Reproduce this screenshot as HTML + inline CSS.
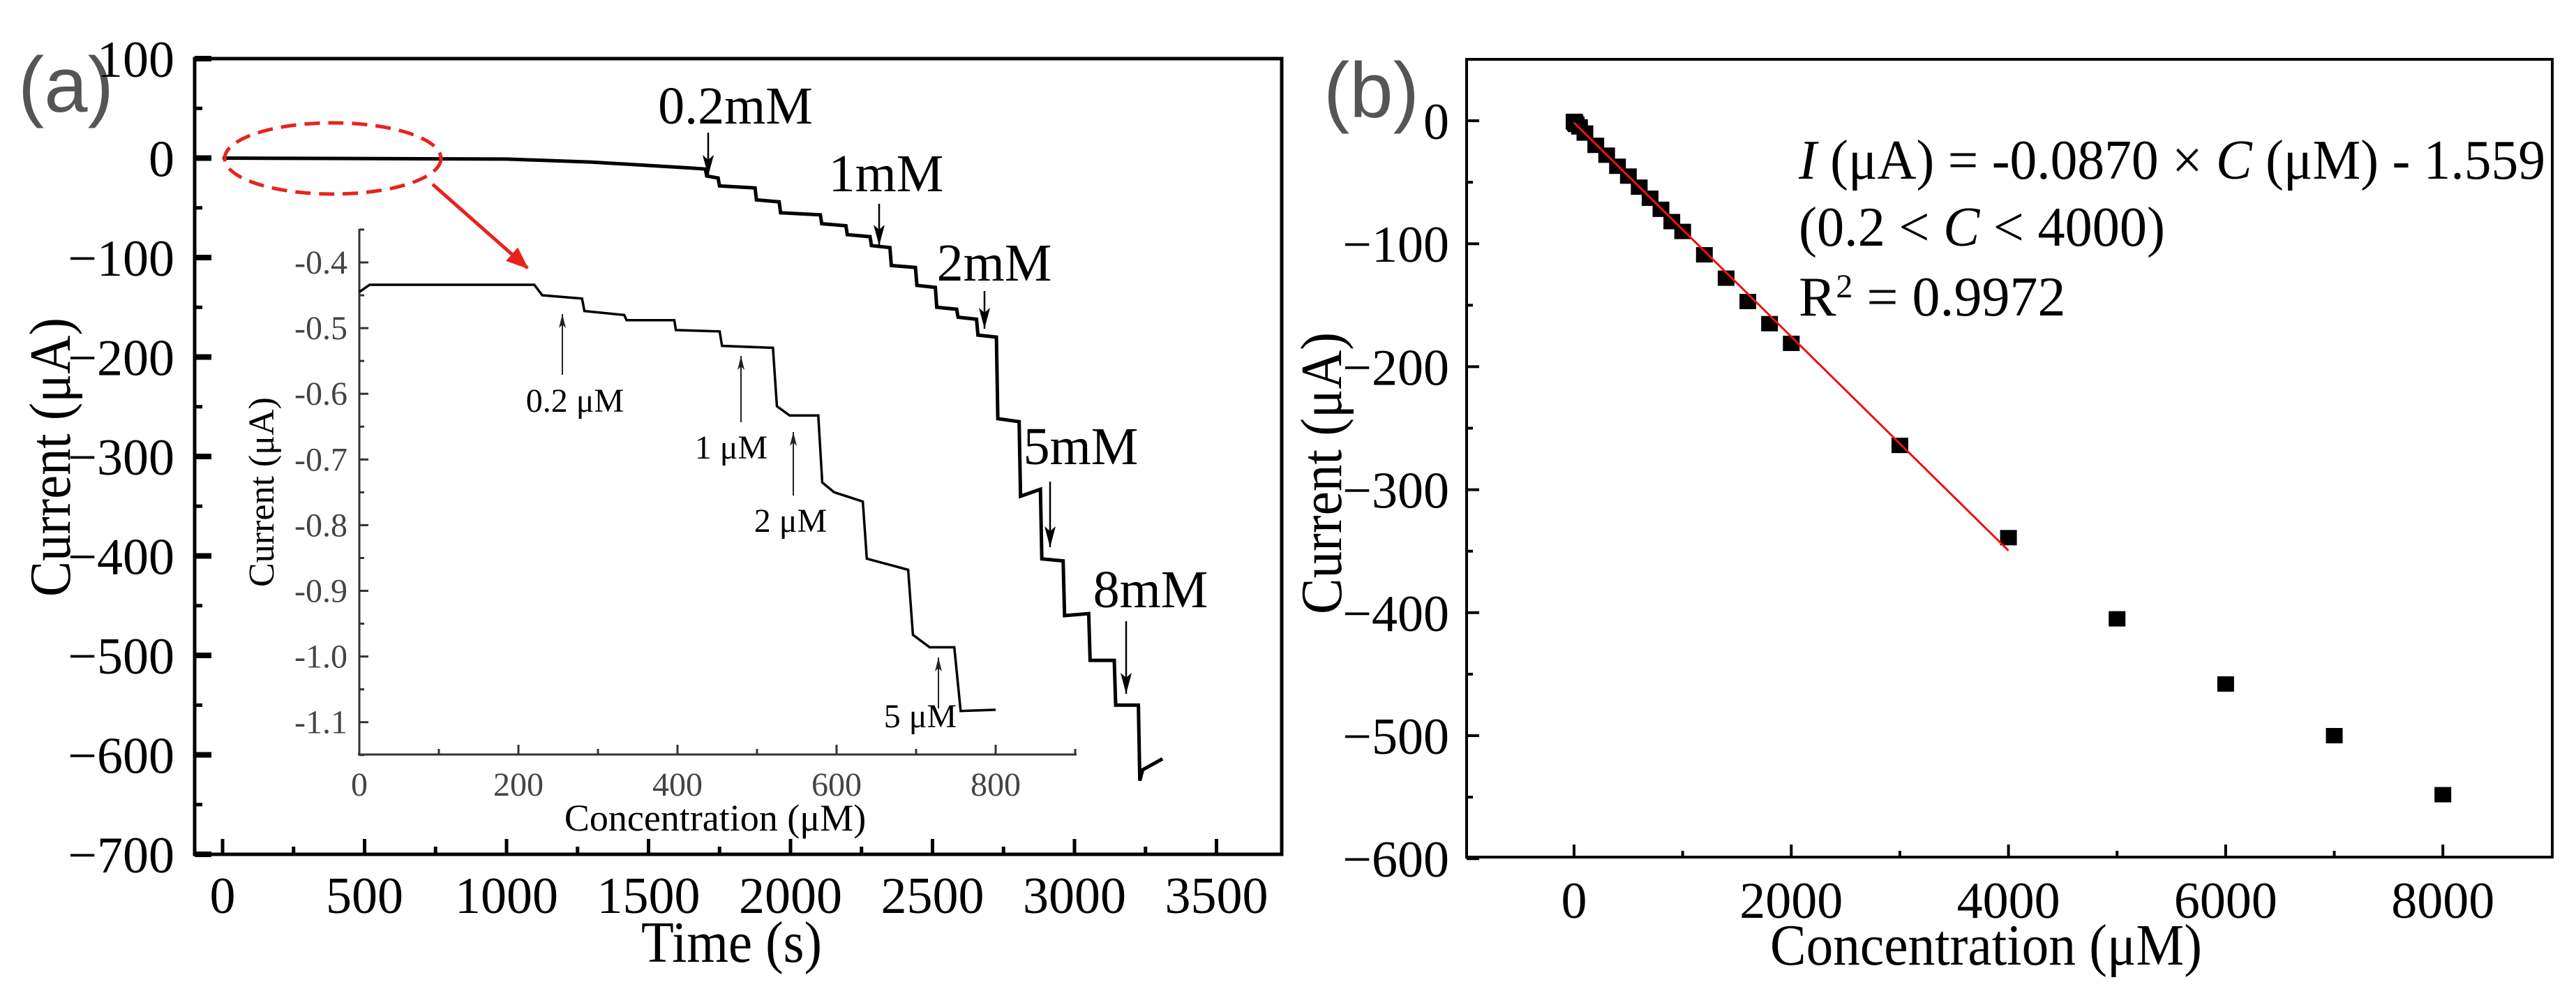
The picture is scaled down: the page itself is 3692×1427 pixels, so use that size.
<!DOCTYPE html>
<html><head><meta charset="utf-8"><style>
html,body{margin:0;padding:0;background:#fff;}
svg{display:block;}
svg text{font-family:"Liberation Serif",serif;}
svg text.sans{font-family:"Liberation Sans",sans-serif;}
</style></head><body>
<svg id="fig" width="3692" height="1427" viewBox="0 0 3692 1427" xmlns="http://www.w3.org/2000/svg"></svg>
<script>
// ---- Panel (a) main trace ----
const timeT = [0,1000,1300,1650,1700,1705,1745,1750,1875,1880,1960,1965,2105,2110,2195,2200,2280,2285,2350,2355,2440,2445,2510,2515,2585,2590,2655,2660,2725,2730,2805,2810,2880,2885,2960,2965,3050,3055,3140,3145,3225,3230,3240,3310];
const currentI = [0,-1,-4,-10,-11,-18,-20,-28,-30,-42,-44,-55,-57,-66,-68,-77,-79,-88,-90,-108,-110,-128,-130,-150,-152,-160,-162,-178,-180,-262,-265,-340,-333,-403,-405,-460,-458,-505,-505,-550,-550,-626,-615,-604];
const aXTicks = [0,500,1000,1500,2000,2500,3000,3500];
const aYTicks = [100,0,-100,-200,-300,-400,-500,-600,-700];
const annotLabels = ["0.2mM","1mM","2mM","5mM","8mM"];
// ---- Inset ----
const insetX = [0,13,220,230,280,283,333,336,396,398,453,456,520,525,541,577,582,597,633,638,690,696,717,748,756,800];
const insetY = [-0.445,-0.434,-0.434,-0.45,-0.455,-0.474,-0.48,-0.488,-0.488,-0.503,-0.505,-0.527,-0.53,-0.619,-0.633,-0.633,-0.735,-0.75,-0.764,-0.851,-0.868,-0.967,-0.986,-0.986,-1.083,-1.081];
const inXTicks = [0,200,400,600,800];
const inYTicks = [-0.4,-0.5,-0.6,-0.7,-0.8,-0.9,-1.0,-1.1];
const inLabels = ["0.2 μM","1 μM","2 μM","5 μM"];
// ---- Panel (b) ----
const concC = [0.2,1,2,5,10,20,50,100,200,300,400,500,600,700,800,900,1000,1200,1400,1600,1800,2000,3000,4000,5000,6000,7000,8000];
const currB = [-0.5,-0.6,-0.7,-1,-2,-3,-5,-10,-20,-28,-37,-45,-54,-63,-72,-82,-90,-109,-128,-147,-165,-181,-264,-339,-405,-458,-500,-548];
const bXTicks = [0,2000,4000,6000,8000];
const bYTicks = [0,-100,-200,-300,-400,-500,-600];
const fitSlope = -0.0870, fitIntercept = -1.559, fitRange = [0,4000];

const NS="http://www.w3.org/2000/svg";
const svg=document.getElementById('fig');
function mk(tag,attrs,parent,text){const e=document.createElementNS(NS,tag);for(const k in attrs)e.setAttribute(k,attrs[k]);if(text!==undefined)e.textContent=text;(parent||svg).appendChild(e);return e;}

const ax=v=>319+v*0.407, ay=v=>226.5-v*1.425;
const ix=v=>515+v*1.14, iy=v=>376-(v+0.4)*941;
const bx=v=>2256+v*0.15565, by=v=>173-v*1.762;

const defs=mk('defs',{});
const mA=mk('marker',{id:'ah',markerWidth:30,markerHeight:16,refX:30,refY:8,orient:'auto',markerUnits:'userSpaceOnUse',viewBox:'0 0 30 16'},defs);
mk('path',{d:'M0 0 L30 8 L0 16 L7 8 Z',fill:'#000'},mA);
const mB=mk('marker',{id:'ahs',markerWidth:20,markerHeight:10,refX:20,refY:5,orient:'auto',markerUnits:'userSpaceOnUse',viewBox:'0 0 20 10'},defs);
mk('path',{d:'M0 0 L20 5 L0 10 L5 5 Z',fill:'#222'},mB);
const mR=mk('marker',{id:'ahr',markerWidth:34,markerHeight:34,refX:30,refY:17,orient:'auto',markerUnits:'userSpaceOnUse'},defs);
mk('path',{d:'M0 4 L32 17 L0 30 Z',fill:'#e8231d'},mR);

// ===== Panel a =====
const ga=mk('g',{});


let t=mk('text',{x:26,y:160,'font-size':112,fill:'#555',class:'sans'},ga,'(a)');

let r=mk('rect',{x:279,y:84,width:1558,height:1140,fill:'none',stroke:'#000','stroke-width':5},ga);

for(let v=100;v>=-700;v-=50){const y=ay(v);const major=(v%100===0);
 mk('line',{x1:279,x2:279+(major?24:11),y1:y,y2:y,stroke:'#000','stroke-width':major?8:5},ga);}
aYTicks.forEach(v=>{const e=mk('text',{x:250,y:ay(v)+26,'font-size':74,'text-anchor':'end'},ga,(v<0?'−':'')+Math.abs(v));
 });
for(let v=0;v<=3750;v+=250){const x=ax(v);if(x>1835)break;const major=(v%500===0);
 mk('line',{x1:x,x2:x,y1:1224,y2:1224-(major?22:11),stroke:'#000','stroke-width':5},ga);}
aXTicks.forEach(v=>{const e=mk('text',{x:ax(v),y:1308,'font-size':74,'text-anchor':'middle'},ga,String(v));
 });
t=mk('text',{x:919,y:1378,'font-size':84,textLength:259,lengthAdjust:'spacingAndGlyphs'},ga,'Time (s)');

t=mk('text',{x:-855,y:100,'font-size':84,textLength:400,lengthAdjust:'spacingAndGlyphs',transform:'rotate(-90)'},ga,'Current (μA)');

let p=mk('polyline',{points:timeT.map((v,i)=>ax(v)+','+ay(currentI[i])).join(' '),fill:'none',stroke:'#000','stroke-width':5},ga);

const annotLabelPos=[[1054,177],[1270,274],[1425,402],[1549,665],[1649,870]];
const annotArrow=[[1015,190,252],[1260,292,352],[1411,417,471],[1505,690,784],[1614,890,994]];
annotLabels.forEach((s,i)=>{
 const e=mk('text',{x:annotLabelPos[i][0],y:annotLabelPos[i][1],'font-size':76,'text-anchor':'middle'},ga,s);
 
 const a=mk('line',{x1:annotArrow[i][0],x2:annotArrow[i][0],y1:annotArrow[i][1],y2:annotArrow[i][2],stroke:'#000','stroke-width':2.5,'marker-end':'url(#ah)'},ga);
 
});
let el=mk('ellipse',{cx:477,cy:227,rx:155,ry:51,fill:'none',stroke:'#e8231d','stroke-width':5,'stroke-dasharray':'22 12'},ga);

el=mk('line',{x1:620,y1:264,x2:756,y2:384,stroke:'#e8231d','stroke-width':5,'marker-end':'url(#ahr)'},ga);


// ===== Inset =====
const gi=mk('g',{});


mk('line',{x1:515,y1:328,x2:515,y2:1081,stroke:'#333','stroke-width':3},gi);
mk('line',{x1:513,y1:1081,x2:1543,y2:1081,stroke:'#333','stroke-width':3},gi);
for(let k=0;k<=16;k++){const v=-0.35-k*0.05;const y=iy(v);const major=k%2===1;
 mk('line',{x1:515,x2:515+(major?13:7),y1:y,y2:y,stroke:'#333','stroke-width':3},gi);}
inYTicks.forEach(v=>{const e=mk('text',{x:498,y:iy(v)+16,'font-size':48,'text-anchor':'end',fill:'#444'},gi,(v<0?'-':'')+Math.abs(v).toFixed(1));
 });
for(let v=0;v<=900;v+=100){const x=ix(v);const major=v%200===0;
 mk('line',{x1:x,x2:x,y1:1081,y2:1081-(major?14:8),stroke:'#333','stroke-width':3},gi);}
inXTicks.forEach(v=>{const e=mk('text',{x:ix(v),y:1140,'font-size':48,'text-anchor':'middle',fill:'#444'},gi,String(v));
 });
t=mk('text',{x:1025,y:1190,'font-size':54,'text-anchor':'middle'},gi,'Concentration (μM)');

t=mk('text',{x:0,y:0,'font-size':52,'text-anchor':'middle',transform:'translate(392,705) rotate(-90)'},gi,'Current (μA)');

p=mk('polyline',{points:insetX.map((v,i)=>ix(v)+','+iy(insetY[i])).join(' '),fill:'none',stroke:'#000','stroke-width':3.5},gi);

const inLabPos=[[824,590],[1048,657],[1133,762],[1319,1042]];
const inArrow=[[806,537,450],[1062,605,510],[1137,710,619],[1345,1015,942]];
inLabels.forEach((s,i)=>{
 const e=mk('text',{x:inLabPos[i][0],y:inLabPos[i][1],'font-size':48,'text-anchor':'middle'},gi,s);
 
 const a=mk('line',{x1:inArrow[i][0],x2:inArrow[i][0],y1:inArrow[i][1],y2:inArrow[i][2],stroke:'#222','stroke-width':2,'marker-end':'url(#ahs)'},gi);
 
});

// ===== Panel b =====
const gb=mk('g',{});


t=mk('text',{x:1897,y:168,'font-size':112,fill:'#555',class:'sans'},gb,'(b)');

r=mk('rect',{x:2102,y:85,width:1556,height:1143,fill:'none',stroke:'#000','stroke-width':4},gb);

for(let v=0;v>=-600;v-=50){const y=by(v);const major=v%100===0;
 mk('line',{x1:2102,x2:2102+(major?18:9),y1:y,y2:y,stroke:'#000','stroke-width':4},gb);}
bYTicks.forEach(v=>{const e=mk('text',{x:2077,y:by(v)+26,'font-size':74,'text-anchor':'end'},gb,(v<0?'−':'')+Math.abs(v));
 });
for(let v=0;v<=8000;v+=1000){const x=bx(v);const major=v%2000===0;
 mk('line',{x1:x,x2:x,y1:1228,y2:1228-(major?18:9),stroke:'#000','stroke-width':4},gb);}
bXTicks.forEach(v=>{const e=mk('text',{x:bx(v),y:1315,'font-size':74,'text-anchor':'middle'},gb,String(v));
 });
t=mk('text',{x:2537,y:1382,'font-size':84,textLength:619,lengthAdjust:'spacingAndGlyphs'},gb,'Concentration (μM)');

t=mk('text',{x:-880,y:1922,'font-size':84,textLength:404,lengthAdjust:'spacingAndGlyphs',transform:'rotate(-90)'},gb,'Current (μA)');

concC.forEach((c,i)=>{const s=mk('rect',{x:bx(c)-12,y:by(currB[i])-11,width:24,height:22,fill:'#000'},gb);
 });
p=mk('line',{x1:bx(fitRange[0]),y1:by(fitSlope*fitRange[0]+fitIntercept),x2:bx(fitRange[1]),y2:by(fitSlope*fitRange[1]+fitIntercept),stroke:'#f01010','stroke-width':3},gb);

t=mk('text',{x:2578,y:256,'font-size':80,textLength:1070,lengthAdjust:'spacingAndGlyphs'},gb);

t.innerHTML='<tspan font-style="italic">I</tspan> (μA) = -0.0870 × <tspan font-style="italic">C</tspan> (μM) - 1.559';
t=mk('text',{x:2578,y:352,'font-size':80,textLength:525,lengthAdjust:'spacingAndGlyphs'},gb);

t.innerHTML='(0.2 &lt; <tspan font-style="italic">C</tspan> &lt; 4000)';
t=mk('text',{x:2578,y:452,'font-size':80},gb);

t.innerHTML='R<tspan baseline-shift="super" font-size="48">2</tspan> = 0.9972';
</script>
</body></html>
